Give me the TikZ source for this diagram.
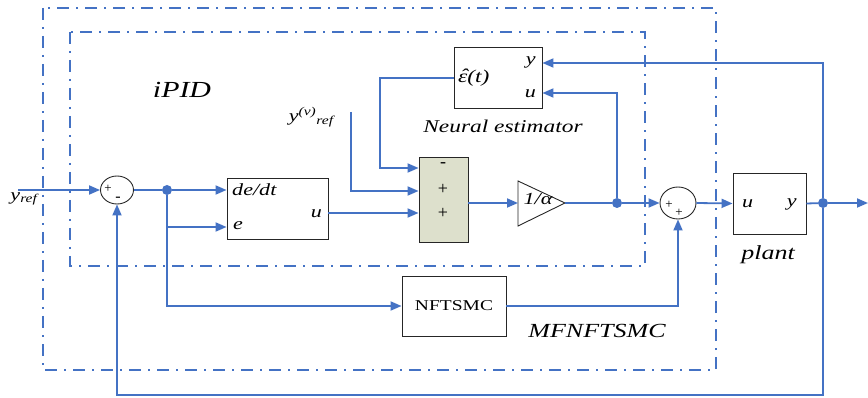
\documentclass[tikz,border=0pt]{standalone}
\usepackage{fontspec}
\setmainfont{Liberation Serif}
\usetikzlibrary{arrows.meta,shapes.geometric}
\definecolor{sigblue}{HTML}{4472C4}
\definecolor{sumfill}{HTML}{DDE0CC}
% horizontally widened text, as in the drawing
\newcommand\hwide[1]{\scalebox{1.3}[1]{#1}}
% italic epsilon with a hat
\newcommand\epshat{\ooalign{\itshape ε\cr\hidewidth\kern0.12em\raisebox{0.05ex}{ˆ}\hidewidth\cr}}
\begin{document}
\begin{tikzpicture}[x=1pt,y=-1pt,
  sig/.style={draw=sigblue, line width=1.8pt},
  arr/.style={sig, -{Triangle[length=11pt,width=9pt]}},
  blk/.style={draw=black!85, line width=0.9pt, fill=white, inner sep=0pt},
  sumnode/.style={draw=black!85, line width=0.9pt, fill=white, ellipse, inner sep=0pt},
  frame/.style={draw=sigblue, line width=1.5pt, dash pattern=on 12pt off 7pt on 2pt off 7pt},
  junction/.style={circle, fill=sigblue, inner sep=0pt, minimum size=10pt},
  lbl/.style={inner sep=0pt, font=\itshape},
]
\useasboundingbox (0,0) rectangle (868,398);

% controller frames
\draw[frame] (43,8) rectangle (716,370);
\draw[frame] (70,32) rectangle (645,266);

% blocks
\node[sumnode, minimum width=33pt, minimum height=28pt] (sum1) at (117,190) {};
\node[blk, minimum width=101pt, minimum height=61pt] (deriv) at (277.5,208.5) {};
\node[blk, fill=sumfill, minimum width=49pt, minimum height=85pt] (add) at (443.5,199.5) {};
\node[blk, minimum width=88pt, minimum height=61pt] (est) at (498,78) {};
\node[sumnode, minimum width=36pt, minimum height=32pt] (sum2) at (678,203) {};
\node[blk, minimum width=73pt, minimum height=61pt] (plant) at (769.5,203.5) {};
\node[blk, minimum width=104pt, minimum height=60pt] (nft) at (454,306) {};

% gain triangle 1/alpha
\coordinate (gin) at (518,203);
\coordinate (gout) at (565,203);
\draw[black!85, line width=0.9pt, fill=white] (518,181) -- (gout) -- (518,226) -- cycle;
\node[lbl, font=\itshape\fontsize{17}{17}\selectfont] (gainlbl) at (538,199) {\hwide{1/\textit{α}}};

% junction points
\node[junction] (j1) at (167,190) {};
\node[junction] (j2) at (617,203) {};
\node[junction] (j3) at (823,203) {};

% free ends
\coordinate (yin) at (18,190);
\coordinate (yv) at (351,112);
\coordinate (yout) at (868,203);

% signal lines
\draw[arr] (yin) -- (sum1.west);
\draw[sig] (sum1.east) -- (j1);
\draw[arr] (j1) -- (deriv.west |- j1);
\draw[arr] (j1) -- (167,227) -- (deriv.west |- 0,227);
\draw[arr] (j1) -- (167,306) -- (nft.west);
\draw[arr] (deriv.east |- 0,213) -- (add.west |- 0,213);
\draw[arr] (yv) -- (351,191) -- (add.west |- 0,191);
\draw[arr] (est.west) -- (380,78) -- (380,168) -- (add.west |- 0,168);
\draw[arr] (add.east |- gin) -- (gin);
\draw[sig] (gout) -- (j2);
\draw[arr] (j2) -- (sum2.west);
\draw[arr] (j2) -- (617,93) -- (est.east |- 0,93);
\draw[arr] (sum2.east) -- (plant.west);
\draw[sig] (plant.east) -- (j3);
\draw[arr] (j3) -- (yout);
\draw[arr] (j3) -- (823,63) -- (est.east |- 0,63);
\draw[arr] (j3) -- (823,395) -- (117,395) -- (sum1.south);
\draw[arr] (nft.east) -- (678,306) -- (sum2.south);

% sign marks
\node[inner sep=0pt, font=\fontsize{13}{13}\selectfont] (s1p) at (108,189) {+};
\node[inner sep=0pt, font=\fontsize{16}{16}\selectfont] (s1m) at (118,199) {-};
\node[inner sep=0pt, font=\fontsize{13}{13}\selectfont] (s2a) at (669,205) {+};
\node[inner sep=0pt, font=\fontsize{13}{13}\selectfont] (s2b) at (679,213) {+};
\node[inner sep=0pt, font=\fontsize{18}{18}\selectfont] (am) at (443,165) {-};
\node[inner sep=0pt, font=\fontsize{18}{18}\selectfont] (ap1) at (443,189) {+};
\node[inner sep=0pt, font=\fontsize{18}{18}\selectfont] (ap2) at (443,213) {+};

% port and block labels
\node[lbl, font=\itshape\fontsize{17}{17}\selectfont, anchor=west] (ldedt) at (232,190) {\hwide{de/dt}};
\node[lbl, font=\itshape\fontsize{17}{17}\selectfont, anchor=west] (le) at (233,226) {\hwide{e}};
\node[lbl, font=\itshape\fontsize{17}{17}\selectfont, anchor=east] (lu) at (322,214) {\hwide{u}};
\node[lbl, font=\itshape\fontsize{18}{18}\selectfont, anchor=west] (leps) at (458,78) {\hwide{\epshat(t)}};
\node[lbl, font=\itshape\fontsize{17}{17}\selectfont, anchor=east] (ly) at (536,62) {\hwide{y}};
\node[lbl, font=\itshape\fontsize{17}{17}\selectfont, anchor=east] (lu2) at (536,94) {\hwide{u}};
\node[lbl, font=\itshape\fontsize{17}{17}\selectfont, anchor=west] (lpu) at (742,204) {\hwide{u}};
\node[lbl, font=\itshape\fontsize{17}{17}\selectfont, anchor=east] (lpy) at (797,204) {\hwide{y}};
\node[inner sep=0pt, font=\fontsize{15}{15}\selectfont] (lnft) at (454,306) {\hwide{NFTSMC}};

% signal names and titles
\node[lbl, font=\itshape\fontsize{17}{17}\selectfont] (lyref) at (24,199) {\hwide{y\textsubscript{ref}}};
\node[lbl, font=\itshape\fontsize{17}{17}\selectfont] (lyv) at (311,117) {\hwide{y\textsuperscript{(v)}\raisebox{-0.35ex}{\fontsize{12}{12}\selectfont ref}}};
\node[lbl, font=\itshape\fontsize{23}{23}\selectfont] (lipid) at (182,90) {\hwide{iPID}};
\node[lbl, font=\itshape\fontsize{18}{18}\selectfont] (lneural) at (503,126) {\hwide{Neural estimator}};
\node[lbl, font=\itshape\fontsize{20}{20}\selectfont] (lplant) at (768,255) {\hwide{plant}};
\node[lbl, font=\itshape\fontsize{20}{20}\selectfont] (lmf) at (597,331) {\hwide{MFNFTSMC}};
\end{tikzpicture}
\end{document}
